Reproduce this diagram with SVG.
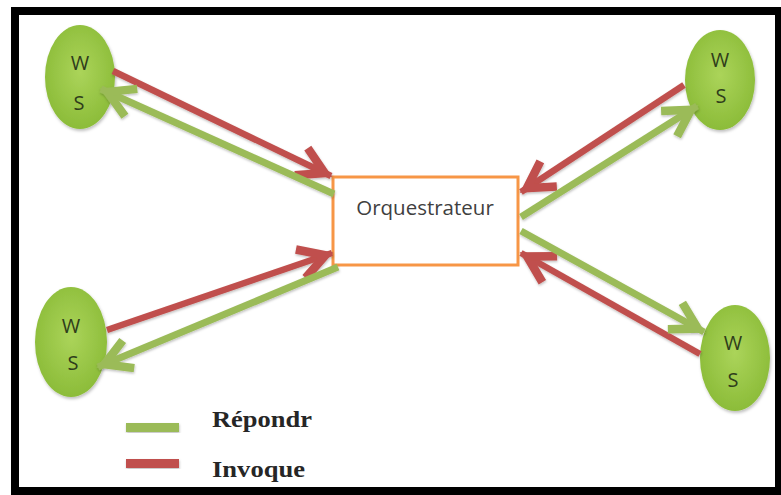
<svg xmlns="http://www.w3.org/2000/svg" width="781" height="495" viewBox="0 0 781 495">
  <style>
    .ws { fill: url(#wsFill); filter: url(#soft); }
    .ws-label { font-family: "Open Sans", "Liberation Sans", sans-serif; font-size: 20px; fill: #2f3d1b; text-anchor: middle; }
    .box { fill: #ffffff; stroke: #f79646; stroke-width: 3; }
    .box-label { font-family: "Open Sans", "Liberation Sans", sans-serif; font-size: 20.5px; fill: #404040; text-anchor: middle; }
    .invoke { stroke: #c0504d; stroke-width: 6.5; fill: none; marker-end: url(#headRed); }
    .reply { stroke: #9bbb59; stroke-width: 7; fill: none; marker-end: url(#headGreen); }
    .legend-text { font-family: "Liberation Serif", "Times New Roman", serif; font-weight: bold; font-size: 23px; fill: #262626; }
  </style>
  <defs>
    <radialGradient id="wsFill" cx="50%" cy="45%" r="60%">
      <stop offset="0%" stop-color="#abd45a"/>
      <stop offset="100%" stop-color="#89ba36"/>
    </radialGradient>
    <filter id="soft" x="-20%" y="-20%" width="140%" height="140%">
      <feDropShadow dx="1" dy="2" stdDeviation="1.5" flood-color="#000" flood-opacity="0.25"/>
    </filter>
    <filter id="lineShadow" x="-10%" y="-10%" width="120%" height="120%">
      <feDropShadow dx="0.5" dy="1.5" stdDeviation="1" flood-color="#000" flood-opacity="0.25"/>
    </filter>
    <marker id="headRed" markerUnits="userSpaceOnUse" markerWidth="1" markerHeight="1" refX="0" refY="0" orient="auto" overflow="visible">
      <path d="M-33,-15 L-7,0 L-33,15" fill="none" stroke="#c0504d" stroke-width="8.5" stroke-linejoin="miter" stroke-miterlimit="10"/>
    </marker>
    <marker id="headGreen" markerUnits="userSpaceOnUse" markerWidth="1" markerHeight="1" refX="0" refY="0" orient="auto" overflow="visible">
      <path d="M-33,-15 L-7,0 L-33,15" fill="none" stroke="#9bbb59" stroke-width="8.5" stroke-linejoin="miter" stroke-miterlimit="10"/>
    </marker>
  </defs>

  <rect x="0" y="0" width="781" height="495" fill="#ffffff"/>
  <!-- outer frame -->
  <rect x="15" y="11" width="764" height="480" fill="none" stroke="#000000" stroke-width="8"/>

  <!-- web service nodes -->
  <g id="ws-top-left">
    <ellipse class="ws" cx="80" cy="77" rx="35" ry="52"/>
    <text class="ws-label" x="80" y="70">W</text>
    <text class="ws-label" x="79" y="110">S</text>
  </g>
  <g id="ws-top-right">
    <ellipse class="ws" cx="720" cy="80" rx="35" ry="50"/>
    <text class="ws-label" x="720" y="67">W</text>
    <text class="ws-label" x="721" y="103">S</text>
  </g>
  <g id="ws-bottom-left">
    <ellipse class="ws" cx="71" cy="342" rx="36" ry="55"/>
    <text class="ws-label" x="71" y="333">W</text>
    <text class="ws-label" x="73" y="370">S</text>
  </g>
  <g id="ws-bottom-right">
    <ellipse class="ws" cx="735" cy="358" rx="35" ry="53"/>
    <text class="ws-label" x="733" y="350">W</text>
    <text class="ws-label" x="733" y="387">S</text>
  </g>

  <!-- orchestrator -->
  <g id="orchestrator">
    <rect class="box" x="333" y="177" width="185" height="88"/>
    <text class="box-label" x="425" y="215">Orquestrateur</text>
  </g>

  <!-- invocations (red) and replies (green) -->
  <g id="connectors" filter="url(#lineShadow)">
    <line class="invoke" x1="113" y1="71" x2="331" y2="176"/>
    <line class="reply" x1="334" y1="194" x2="101" y2="89"/>

    <line class="invoke" x1="684" y1="85" x2="521" y2="192"/>
    <line class="reply" x1="521" y1="217" x2="697" y2="106"/>

    <line class="invoke" x1="107" y1="330" x2="332" y2="253"/>
    <line class="reply" x1="338" y1="267" x2="98" y2="367"/>

    <line class="invoke" x1="700" y1="354" x2="521" y2="253"/>
    <line class="reply" x1="521" y1="231" x2="704" y2="332"/>
  </g>

  <!-- legend -->
  <g id="legend">
    <rect x="126" y="423" width="53" height="9" fill="#9bbb59" filter="url(#lineShadow)"/>
    <rect x="126" y="459" width="53" height="9" fill="#c0504d" filter="url(#lineShadow)"/>
    <text class="legend-text" x="212" y="427" textLength="100" lengthAdjust="spacingAndGlyphs">Répondr</text>
    <text class="legend-text" x="212" y="477" textLength="93" lengthAdjust="spacingAndGlyphs">Invoque</text>
  </g>
</svg>
